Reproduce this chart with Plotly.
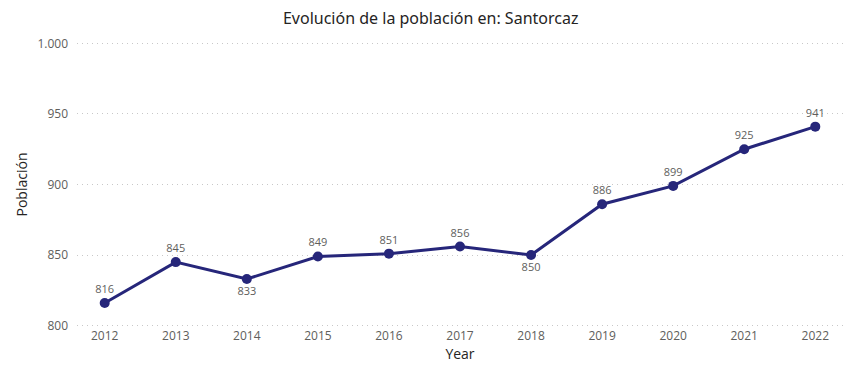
import plotly.graph_objects as go

years = ["2012", "2013", "2014", "2015", "2016", "2017", "2018", "2019", "2020", "2021", "2022"]
population = [816, 845, 833, 849, 851, 856, 850, 886, 899, 925, 941]
label_pos = ["top center", "top center", "bottom center", "top center", "top center", "top center",
             "bottom center", "top center", "top center", "top center", "top center"]
y_ticks = [800, 850, 900, 950, 1000]
y_tick_labels = ["800", "850", "900", "950", "1.000"]

fig = go.Figure(go.Scatter(
    x=years, y=population, mode="lines+markers+text",
    line=dict(color="#26267A", width=3),
    marker=dict(color="#26267A", size=10),
    text=[str(v) for v in population], textposition=label_pos,
    textfont=dict(color="#605E5C", size=11, family="Open Sans"),
    cliponaxis=False, hoverinfo="skip"
))

fig.update_layout(
    width=868, height=373,
    margin=dict(l=69, r=33, t=34, b=54, autoexpand=False),
    paper_bgcolor="white", plot_bgcolor="white",
    showlegend=False,
    title=dict(text="Evolución de la población en: Santorcaz", x=0.487, xanchor="center",
               y=0.973, yanchor="middle",
               font=dict(family="Noto Sans", size=16, color="#252423")),
    font=dict(family="Open Sans", color="#605E5C", size=12),
)
fig.update_xaxes(type="category", range=[-0.39, 10.39], showgrid=False, showline=False,
                 ticks="", automargin=False, tickfont=dict(size=12, color="#605E5C"),
                 title=dict(text="Year", font=dict(size=14, color="#252423"), standoff=5))
fig.update_yaxes(range=[799, 1001], tickvals=y_ticks, ticktext=y_tick_labels,
                 showgrid=True, gridcolor="#C8C8C8", griddash="1px,4px", gridwidth=1,
                 zeroline=False, showline=False, ticks="", ticklabelstandoff=8, automargin=False,
                 tickfont=dict(size=12, color="#605E5C"),
                 title=dict(text="Población", font=dict(size=14, color="#252423"), standoff=6))

fig.write_html("out.html")
